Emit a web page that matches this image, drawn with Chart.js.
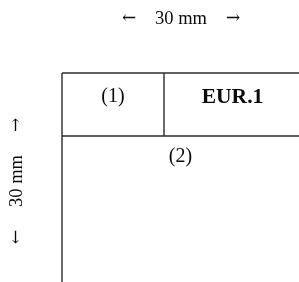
<!DOCTYPE html>
<html>
<head>
<meta charset="utf-8">
<script src="https://cdn.jsdelivr.net/npm/chart.js@4/dist/chart.umd.min.js"></script>
<style>
  html, body { margin: 0; padding: 0; background: #fff; }
  #wrap { width: 299px; height: 282px; }
</style>
</head>
<body>
<div id="wrap"><canvas id="ctx" width="299" height="282"></canvas></div>
<script>
// form layout, in canvas units (x right, y down)
const frameLeft = 62;
const frameRight = 299;
const frameTop = 73;
const frameBottom = 282;
const boxDivider = 164;
const boxBottom = 136;

// label texts
const labelBox1 = "(1)";
const labelBox2 = "EUR.1";
const labelBox3 = "(2)";
const labelSize = "30 mm";
const arrowBack = "\u2190";
const arrowFwd = "\u2192";

const lineColor = "#2b2b2b";
const textColor = "#0a0a0a";
const serif = "'Liberation Serif', 'DejaVu Serif', serif";
const serifWide = "'DejaVu Serif', serif";

function segment(x0, y0, x1, y1) {
  return {
    data: [{ x: x0, y: y0 }, { x: x1, y: y1 }],
    showLine: true,
    borderColor: lineColor,
    borderWidth: 1.4,
    pointRadius: 0,
  };
}

// text labels placed through the scales
const labelPlugin = {
  id: "labels",
  afterDatasetsDraw(chart) {
    const { ctx } = chart;
    const sx = chart.scales.x;
    const sy = chart.scales.y;
    const put = (text, x, y, font, rot) => {
      ctx.save();
      ctx.translate(sx.getPixelForValue(x), sy.getPixelForValue(y));
      if (rot) ctx.rotate(rot);
      ctx.font = font;
      ctx.fillStyle = textColor;
      ctx.textAlign = "center";
      ctx.textBaseline = "middle";
      ctx.fillText(text, 0, 0);
      ctx.restore();
    };
    put(labelBox1, (frameLeft + boxDivider) / 2, 97, "20px " + serif);
    put(labelBox2, (boxDivider + frameRight) / 2 + 1, 97, "bold 21.5px " + serif);
    put(labelBox3, (frameLeft + frameRight) / 2, 157, "20px " + serif);
    // width dimension
    const wx = 181;
    put(arrowBack, wx - 52, 19, "17px " + serifWide);
    put(labelSize, wx, 19, "18.5px " + serif);
    put(arrowFwd, wx + 52, 19, "17px " + serifWide);
    // height dimension
    const hy = 181;
    put(arrowFwd, 17, hy - 56, "17px " + serifWide, -Math.PI / 2);
    put(labelSize, 17, hy, "18.5px " + serif, -Math.PI / 2);
    put(arrowBack, 17, hy + 56, "17px " + serifWide, -Math.PI / 2);
  },
};

new Chart(document.getElementById("ctx"), {
  type: "scatter",
  data: {
    datasets: [
      segment(frameLeft, frameTop, frameLeft, frameBottom),
      segment(frameLeft, frameTop, frameRight, frameTop),
      segment(boxDivider, frameTop, boxDivider, boxBottom),
      segment(frameLeft, boxBottom, frameRight, boxBottom),
    ],
  },
  options: {
    responsive: false,
    animation: false,
    layout: { padding: 0 },
    scales: {
      x: { type: "linear", min: 0, max: 299, display: false },
      y: { type: "linear", min: 0, max: 282, reverse: true, display: false },
    },
    plugins: {
      legend: { display: false },
      tooltip: { enabled: false },
    },
  },
  plugins: [labelPlugin],
});
</script>
</body>
</html>
